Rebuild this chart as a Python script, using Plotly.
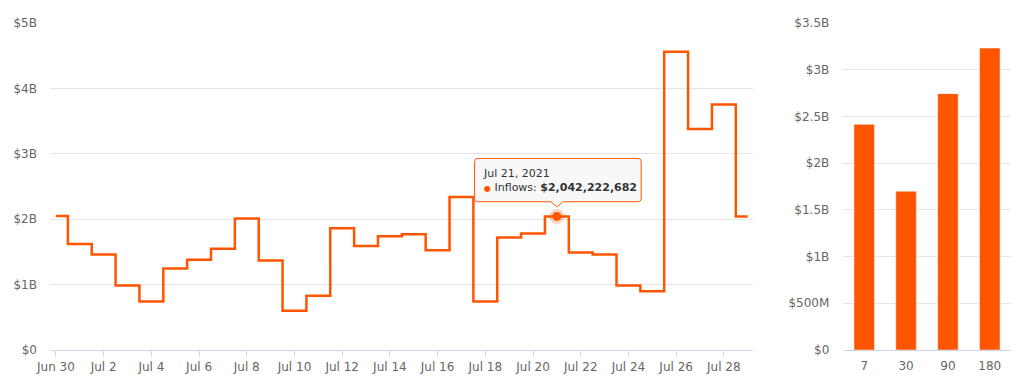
import plotly.graph_objects as go
import pandas as pd

# ---- data ----
dates = pd.date_range("2021-06-30", "2021-07-29", freq="D")
inflows = [2.05e9, 1.62e9, 1.46e9, 0.985e9, 0.74e9, 1.245e9, 1.38e9, 1.55e9, 2.01e9, 1.37e9,
           0.60e9, 0.83e9, 1.86e9, 1.59e9, 1.74e9, 1.77e9, 1.525e9, 2.34e9, 0.74e9, 1.72e9,
           1.78e9, 2042222682, 1.49e9, 1.46e9, 0.985e9, 0.90e9, 4.56e9, 3.38e9, 3.755e9, 2.04e9]
left_tickvals = [0, 1e9, 2e9, 3e9, 4e9, 5e9]
left_ticktext = ["$0", "$1B", "$2B", "$3B", "$4B", "$5B"]
x_tickdates = pd.date_range("2021-06-30", "2021-07-28", freq="2D")
x_ticktext = [d.strftime("%b ") + str(d.day) for d in x_tickdates]

periods = ["7", "30", "90", "180"]
period_values = [2.416e9, 1.70e9, 2.744e9, 3.232e9]
right_tickvals = [0, 0.5e9, 1e9, 1.5e9, 2e9, 2.5e9, 3e9, 3.5e9]
right_ticktext = ["$0", "$500M", "$1B", "$1.5B", "$2B", "$2.5B", "$3B", "$3.5B"]

hover_index = 21  # Jul 21, 2021

ORANGE = "#ff5500"
FONT = dict(family="DejaVu Sans", size=12, color="#666666")

fig = go.Figure()

fig.add_trace(go.Scatter(
    x=dates, y=inflows, mode="lines", line=dict(color=ORANGE, width=2.5, shape="hvh"),
    xaxis="x", yaxis="y", showlegend=False, hoverinfo="skip"))

hx = dates[hover_index]
hy = inflows[hover_index]
fig.add_trace(go.Scatter(
    x=[hx], y=[hy], mode="markers",
    marker=dict(color="rgba(255,85,0,0.25)", size=15, line=dict(width=0)),
    xaxis="x", yaxis="y", showlegend=False, hoverinfo="skip"))
fig.add_trace(go.Scatter(
    x=[hx], y=[hy], mode="markers",
    marker=dict(color=ORANGE, size=9, line=dict(width=0)),
    xaxis="x", yaxis="y", showlegend=False, hoverinfo="skip"))

fig.add_trace(go.Bar(
    x=periods, y=period_values, marker=dict(color=ORANGE, line=dict(color="rgba(255,255,255,0.5)", width=1)),
    xaxis="x2", yaxis="y2", showlegend=False, hoverinfo="skip"))

# tooltip box (pixel offsets relative to hovered point)
box_path = ("M -79.3,58 L 81.3,58 Q 84.3,58 84.3,55 L 84.3,17.7 Q 84.3,14.7 81.3,14.7 "
            "L 6,14.7 L 0,9.5 L -6,14.7 L -79.3,14.7 Q -82.3,14.7 -82.3,17.7 "
            "L -82.3,55 Q -82.3,58 -79.3,58 Z")
fig.add_shape(type="path", xref="x", yref="y", xsizemode="pixel", ysizemode="pixel",
              xanchor=hx, yanchor=hy, path=box_path,
              fillcolor="rgba(247,247,247,0.9)", line=dict(color=ORANGE, width=1), layer="above")

tip_text = (hx.strftime("%b ") + str(hx.day) + hx.strftime(", %Y") +
            "<br><span style='color:#ff5500;font-size:8px'>\u25CF</span> Inflows: <b>$" +
            f"{int(hy):,}" + "</b>")
fig.add_annotation(x=hx, y=hy, xref="x", yref="y", text=tip_text, showarrow=False,
                   xanchor="left", yanchor="middle", align="left", xshift=-75, yshift=36,
                   borderpad=0, font=dict(family="DejaVu Sans", size=11, color="#333333"))

ydom = [37 / 387, 1 - 23 / 387]
fig.update_layout(
    width=1024, height=387, margin=dict(l=0, r=0, t=0, b=0),
    paper_bgcolor="white", plot_bgcolor="white", font=FONT, hovermode=False,
    bargap=0.508,
    xaxis=dict(domain=[50 / 1024, 753 / 1024], type="date",
               range=["2021-06-29 18:00", "2021-07-29 05:20"],
               tickvals=x_tickdates, ticktext=x_ticktext, ticks="outside", ticklen=6,
               tickcolor="#ccd6eb", tickwidth=1, showline=True, linecolor="#ccd6eb",
               showgrid=False, zeroline=False, anchor="y", automargin=False, fixedrange=True),
    yaxis=dict(domain=ydom, range=[0, 5e9], tickvals=left_tickvals, ticktext=left_ticktext,
               showgrid=True, gridcolor="#e6e6e6", zeroline=False, showline=False,
               ticks="", ticklabelstandoff=12, anchor="x", automargin=False, fixedrange=True),
    xaxis2=dict(domain=[843.3 / 1024, 1010.7 / 1024], type="category", anchor="y2",
                showline=True, linecolor="#ccd6eb", ticks="", showgrid=False, zeroline=False,
                ticklabelstandoff=5, automargin=False, fixedrange=True),
    yaxis2=dict(domain=ydom, range=[0, 3.5e9], tickvals=right_tickvals, ticktext=right_ticktext,
                showgrid=True, gridcolor="#e6e6e6", zeroline=False, showline=False, ticks="",
                ticklabelstandoff=13, anchor="x2", automargin=False, fixedrange=True),
)

fig.write_html("out.html", config={"displayModeBar": False},
               post_script="document.body.style.margin='0';document.body.style.overflow='hidden';")
